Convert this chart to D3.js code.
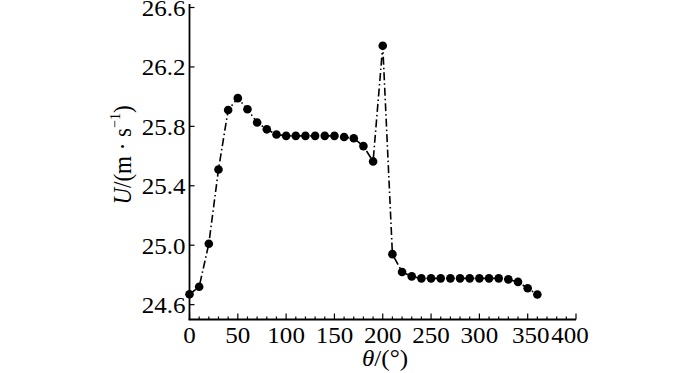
<!DOCTYPE html>
<html>
<head>
<meta charset="utf-8">
<script src="https://cdn.jsdelivr.net/npm/d3@7"></script>
<style>
  body { margin: 0; background: #fff; }
</style>
</head>
<body>
<div id="chart"></div>
<script>
// data
const theta = [0, 10, 20, 30, 40, 50, 60, 70, 80, 90, 100, 110, 120, 130, 140, 150, 160, 170, 180, 190,
  200, 210, 220, 230, 240, 250, 260, 270, 280, 290, 300, 310, 320, 330, 340, 350, 360];
const speed = [24.67, 24.72, 25.01, 25.51, 25.91, 25.99, 25.915, 25.826, 25.78, 25.745, 25.736, 25.736, 25.736, 25.736, 25.736, 25.736, 25.728, 25.72, 25.667, 25.564,
  26.343, 24.94, 24.82, 24.79, 24.777, 24.777, 24.777, 24.777, 24.777, 24.777, 24.777, 24.777, 24.777, 24.77, 24.753, 24.71, 24.668];
const xTicks = [0, 50, 100, 150, 200, 250, 300, 350, 400];
const yTicks = [24.6, 25.0, 25.4, 25.8, 26.2, 26.6];

const width = 700, height = 373;
const font = "'Liberation Serif', 'Times New Roman', Times, serif";
const fs = 23, sx = 1.09; // text in the original is a little stretched sideways
const svg = d3.select("#chart").append("svg")
  .attr("width", width)
  .attr("height", height)
  .attr("font-family", font);

const x = d3.scaleLinear().domain([0, 400]).range([189.5, 576]);
const y = d3.scaleLinear().domain([24.5, 26.6]).range([319.5, 7.5]);

// x axis, ticks pointing inward
const gx = svg.append("g").attr("transform", `translate(0,${y(24.5)})`);
gx.append("line").attr("x1", x(0) - 1).attr("x2", x(400)).attr("stroke", "#000").attr("stroke-width", 1.8);
gx.selectAll(".minor").data(d3.range(0, 401, 10)).enter().append("line")
  .attr("x1", d => x(d)).attr("x2", d => x(d))
  .attr("y1", 0).attr("y2", d => d % 50 === 0 ? -6 : -3)
  .attr("stroke", "#000").attr("stroke-width", 1.2);
gx.selectAll(".lbl").data(xTicks).enter().append("text")
  .attr("transform", d => `translate(${x(d) + (d === 400 ? -6 : d === 350 ? 3 : 0)},23) scale(${sx},1)`)
  .attr("text-anchor", "middle")
  .attr("font-size", fs)
  .text(d => d);

// y axis
const gy = svg.append("g").attr("transform", `translate(${x(0)},0)`);
gy.append("line").attr("y1", y(24.5)).attr("y2", 4).attr("stroke", "#000").attr("stroke-width", 1.8);
gy.selectAll(".tk").data(yTicks).enter().append("line")
  .attr("x1", 0).attr("x2", 5)
  .attr("y1", d => y(d)).attr("y2", d => y(d))
  .attr("stroke", "#000").attr("stroke-width", 1.2);
gy.selectAll(".lbl").data(yTicks).enter().append("text")
  .attr("transform", d => `translate(-4,${y(d) + 8.5}) scale(${sx},1)`)
  .attr("text-anchor", "end")
  .attr("font-size", fs)
  .text(d => d.toFixed(1));

// axis titles
const xt = svg.append("text")
  .attr("transform", `translate(385,366) scale(${sx},1)`)
  .attr("text-anchor", "middle")
  .attr("font-size", fs);
xt.append("tspan").attr("font-style", "italic").text("θ");
xt.append("tspan").text("/(°)");

const yt = svg.append("text")
  .attr("transform", `translate(131,155) rotate(-90) scale(1,${sx})`)
  .attr("text-anchor", "middle")
  .attr("font-size", fs);
yt.append("tspan").attr("font-style", "italic").text("U");
yt.append("tspan").text("/(m · s");
yt.append("tspan").attr("font-size", 14).attr("dy", -10).text("−1");
yt.append("tspan").attr("dy", 10).text(")");

// dash-dot line
const line = d3.line().x((d, i) => x(theta[i])).y(d => y(d));
svg.append("path")
  .datum(speed)
  .attr("d", line)
  .attr("fill", "none")
  .attr("stroke", "#000")
  .attr("stroke-width", 1.6)
  .attr("stroke-dasharray", "8,3,1.5,3");

svg.selectAll(".pt").data(speed).enter().append("circle")
  .attr("cx", (d, i) => x(theta[i]))
  .attr("cy", d => y(d))
  .attr("r", 4.3)
  .attr("fill", "#000");
</script>
</body>
</html>
